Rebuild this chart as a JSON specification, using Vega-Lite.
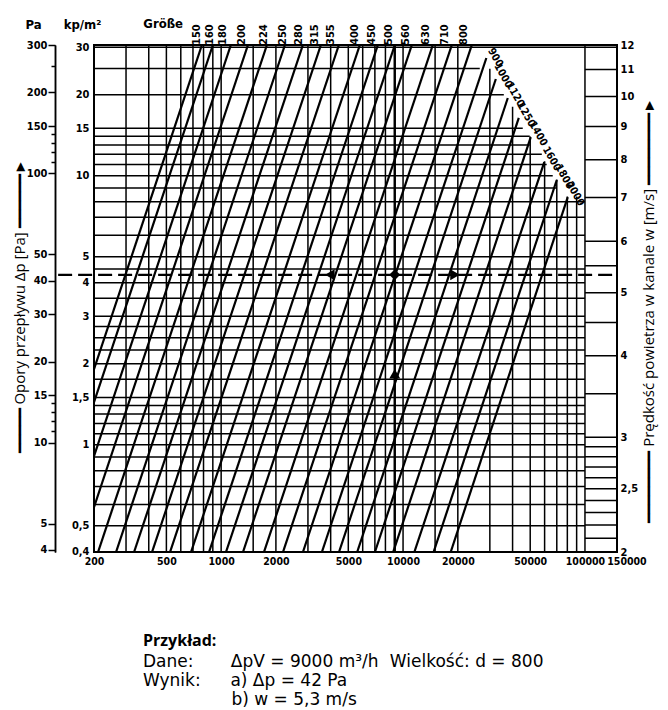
{
  "$schema": "https://vega.github.io/schema/vega-lite/v6.json",
  "width": 523,
  "height": 507,
  "autosize": {"type": "none"},
  "padding": {"left": 94, "top": 45, "right": 51, "bottom": 158},
  "background": "white",
  "config": {
    "view": {"stroke": "black", "strokeWidth": 2},
    "axis": {
      "labelFont": "DejaVu Sans Condensed, Liberation Sans Narrow, Roboto, sans-serif",
      "labelFontWeight": "bold",
      "labelFontSize": 11,
      "labelColor": "black",
      "titleColor": "black",
      "domainColor": "black",
      "tickColor": "black",
      "grid": false,
      "titleFont": "DejaVu Sans Condensed, Liberation Sans Narrow, Roboto, sans-serif",
      "titleFontWeight": "bold"
    }
  },
  "title": {
    "text": "Przykład:",
    "subtitle": [
      "Dane:\u2003\u2003\u2009ΔpV = 9000 m³/h\u2002\u2006Wielkość: d = 800",
      "Wynik:\u2003\u2002\u2005a) Δp = 42 Pa",
      "\u200b\u2003\u2003\u2003\u2003\u2003\u2009b) w = 5,3 m/s"
    ],
    "orient": "bottom",
    "anchor": "start",
    "frame": "group",
    "dx": 49,
    "offset": 66,
    "font": "Open Sans",
    "fontSize": 16,
    "fontWeight": "bold",
    "color": "black",
    "subtitleFont": "DejaVu Sans",
    "subtitleFontSize": 17,
    "subtitleFontWeight": "normal",
    "subtitleColor": "black",
    "subtitleLineHeight": 19,
    "subtitlePadding": 5
  },
  "datasets": {
    "lines": [
      {"d":150,"q":784,"pa":300},{"d":150,"q":200,"pa":18.73},
      {"d":160,"q":901,"pa":300},{"d":160,"q":200,"pa":14.12},
      {"d":180,"q":1131,"pa":300},{"d":180,"q":200,"pa":8.9},
      {"d":200,"q":1404,"pa":300},{"d":200,"q":200,"pa":5.75},
      {"d":224,"q":1785,"pa":300},{"d":224,"q":210.6,"pa":3.92},
      {"d":250,"q":2242,"pa":300},{"d":250,"q":264.5,"pa":3.92},
      {"d":280,"q":2814,"pa":300},{"d":280,"q":332.2,"pa":3.92},
      {"d":315,"q":3534,"pa":300},{"d":315,"q":417,"pa":3.92},
      {"d":355,"q":4438,"pa":300},{"d":355,"q":523.8,"pa":3.92},
      {"d":400,"q":5787,"pa":300},{"d":400,"q":683.2,"pa":3.92},
      {"d":450,"q":7270,"pa":300},{"d":450,"q":857.8,"pa":3.92},
      {"d":500,"q":9014,"pa":300},{"d":500,"q":1063.6,"pa":3.92},
      {"d":560,"q":11178,"pa":300},{"d":560,"q":1319,"pa":3.92},
      {"d":630,"q":14576,"pa":300},{"d":630,"q":1720,"pa":3.92},
      {"d":710,"q":18540,"pa":300},{"d":710,"q":2188,"pa":3.92},
      {"d":800,"q":23880,"pa":300},{"d":800,"q":2816,"pa":3.92},
      {"d":900,"q":28700,"pa":268.4},{"d":900,"q":3580,"pa":3.92},
      {"d":1000,"q":32360,"pa":224.3},{"d":1000,"q":4446,"pa":3.92},
      {"d":1120,"q":37650,"pa":190.6},{"d":1120,"q":5596,"pa":3.92},
      {"d":1250,"q":43270,"pa":160.7},{"d":1250,"q":7004,"pa":3.92},
      {"d":1400,"q":50360,"pa":136.5},{"d":1400,"q":8826,"pa":3.92},
      {"d":1600,"q":59740,"pa":110.2},{"d":1600,"q":11540,"pa":3.92},
      {"d":1800,"q":69980,"pa":94.5},{"d":1800,"q":14720,"pa":3.92},
      {"d":2000,"q":80440,"pa":81.7},{"d":2000,"q":18280,"pa":3.92}
    ],
    "labelsUp": [
      {"d":"150","q":794,"pa":300},{"d":"160","q":936,"pa":300},{"d":"180","q":1104,"pa":300},{"d":"200","q":1404,"pa":300},
      {"d":"224","q":1852,"pa":300},{"d":"250","q":2356,"pa":300},{"d":"280","q":2890,"pa":300},{"d":"315","q":3534,"pa":300},
      {"d":"355","q":4336,"pa":300},{"d":"400","q":5874,"pa":300},{"d":"450","q":7270,"pa":300},{"d":"500","q":9014,"pa":300},
      {"d":"560","q":11178,"pa":300},{"d":"630","q":14420,"pa":300},{"d":"710","q":18320,"pa":300},{"d":"800","q":23240,"pa":300}
    ],
    "labelsStair": [
      {"d":"900","q":28700,"pa":268.4},{"d":"1000","q":32360,"pa":224.3},
      {"d":"1120","q":37650,"pa":190.6},{"d":"1250","q":43270,"pa":160.7},
      {"d":"1400","q":50360,"pa":136.5},{"d":"1600","q":59740,"pa":110.2},
      {"d":"1800","q":69980,"pa":94.5},{"d":"2000","q":80440,"pa":81.7}
    ],
    "vgrid": [
      {"q":300,"top":300,"bot":3.92},{"q":400,"top":300,"bot":3.92},{"q":500,"top":300,"bot":3.92},{"q":600,"top":300,"bot":3.92},
      {"q":700,"top":300,"bot":3.92},{"q":800,"top":300,"bot":3.92},{"q":900,"top":300,"bot":3.92},{"q":1000,"top":300,"bot":3.92},
      {"q":1500,"top":300,"bot":3.92},{"q":2000,"top":300,"bot":3.92},{"q":3000,"top":300,"bot":3.92},{"q":4000,"top":300,"bot":3.92},
      {"q":5000,"top":300,"bot":3.92},{"q":6000,"top":300,"bot":3.92},{"q":7000,"top":300,"bot":3.92},{"q":8000,"top":300,"bot":3.92},
      {"q":9000,"top":300,"bot":3.92},{"q":10000,"top":300,"bot":3.92},{"q":15000,"top":300,"bot":3.92},{"q":20000,"top":300,"bot":3.92},
      {"q":30000,"top":245,"bot":3.92},{"q":40000,"top":177,"bot":3.92},{"q":50000,"top":137,"bot":3.92},{"q":60000,"top":111,"bot":3.92},
      {"q":70000,"top":95,"bot":3.92},{"q":80000,"top":82,"bot":3.92},{"q":90000,"top":82,"bot":3.92},{"q":100000,"top":300,"bot":3.92}
    ],
    "hgrid": [
      {"kp":30,"q0":200,"qend":150000},{"kp":25,"q0":200,"qend":26400},{"kp":20,"q0":200,"qend":35800},
      {"kp":15,"q0":200,"qend":45500},{"kp":14,"q0":200,"qend":49700},{"kp":13,"q0":200,"qend":49700},
      {"kp":12,"q0":200,"qend":57900},{"kp":11,"q0":200,"qend":61600},{"kp":10,"q0":200,"qend":66500},
      {"kp":9,"q0":200,"qend":70000},{"kp":8,"q0":200,"qend":100000},{"kp":7,"q0":200,"qend":100000},
      {"kp":6,"q0":200,"qend":100000},{"kp":5,"q0":200,"qend":100000},{"kp":4.5,"q0":200,"qend":100000},
      {"kp":4,"q0":200,"qend":100000},{"kp":3.5,"q0":200,"qend":100000},{"kp":3,"q0":200,"qend":100000},
      {"kp":2.75,"q0":200,"qend":100000},{"kp":2.5,"q0":200,"qend":100000},{"kp":2.25,"q0":200,"qend":100000},
      {"kp":2,"q0":200,"qend":100000},{"kp":1.75,"q0":200,"qend":100000},{"kp":1.5,"q0":200,"qend":100000},
      {"kp":1.4,"q0":200,"qend":100000},{"kp":1.3,"q0":200,"qend":100000},{"kp":1.2,"q0":200,"qend":100000},
      {"kp":1.1,"q0":200,"qend":100000},{"kp":1,"q0":200,"qend":100000},{"kp":0.9,"q0":200,"qend":100000},
      {"kp":0.8,"q0":200,"qend":100000},{"kp":0.7,"q0":200,"qend":100000},{"kp":0.6,"q0":200,"qend":100000},
      {"kp":0.5,"q0":200,"qend":100000}
    ],
    "wgrid": [
      {"w":2.1,"q0":100000,"q1":150000},{"w":2.2,"q0":100000,"q1":150000},{"w":2.3,"q0":100000,"q1":150000},
      {"w":2.4,"q0":100000,"q1":150000},{"w":2.5,"q0":100000,"q1":150000},{"w":2.6,"q0":100000,"q1":150000},
      {"w":2.7,"q0":100000,"q1":150000},{"w":2.8,"q0":100000,"q1":150000},{"w":2.9,"q0":100000,"q1":150000},
      {"w":3,"q0":100000,"q1":150000},{"w":3.5,"q0":100000,"q1":150000},{"w":4,"q0":100000,"q1":150000},
      {"w":4.5,"q0":100000,"q1":150000},{"w":5,"q0":100000,"q1":150000},{"w":5.5,"q0":100000,"q1":150000},
      {"w":6,"q0":100000,"q1":150000},{"w":7,"q0":100000,"q1":150000},{"w":8,"q0":100000,"q1":150000},
      {"w":9,"q0":100000,"q1":150000},{"w":10,"q0":100000,"q1":150000},{"w":11,"q0":100000,"q1":150000}
    ],
    "example": [{"q":127,"q2":150000,"pa":42}],
    "arrows": [
      {"q":3960,"pa":42,"kind":"left"},
      {"q":9000,"pa":42,"kind":"mid"},
      {"q":19300,"pa":42,"kind":"right"},
      {"q":9000,"pa":18,"kind":"up"}
    ],
    "heading": [{"q":480,"pa":300,"t":"Größe"}]
  },
  "resolve": {"scale": {"y": "independent"}, "axis": {"y": "independent"}},
  "layer": [
    {
      "data": {"values": [{"q": 1000, "pa": 10}]},
      "mark": {"type": "point", "opacity": 0},
      "encoding": {
        "x": {
          "field": "q", "type": "quantitative",
          "scale": {"type": "log", "domain": [200, 150000], "nice": false},
          "axis": {
            "orient": "bottom",
            "values": [200, 500, 1000, 2000, 5000, 10000, 20000, 50000, 100000, 150000],
            "format": "d", "ticks": false, "domain": false, "labelPadding": 4,
            "labelFontSize": 10.5,
            "labelExpr": "datum.value == 150000 ? '\u200b\u2002\u2002\u2002\u2002150000' : datum.label",
            "labelFlush": false, "labelOverlap": false, "title": null
          }
        },
        "y": {
          "field": "pa", "type": "quantitative",
          "scale": {"type": "log", "domain": [3.92, 300], "nice": false},
          "axis": {
            "orient": "left", "offset": 39,
            "values": [250, 140, 130, 120, 110, 14, 13, 12, 11],
            "labels": false, "tickSize": 4, "tickWidth": 1.5, "domainWidth": 1.5,
            "title": "━━━━━ Opory przepływu Δp [Pa] ━━━━━━►",
            "titleFont": "Open Sans", "titleFontWeight": "normal", "titleFontSize": 15,
            "titleAngle": 270, "titleX": -36, "titleY": 261,
            "titleAlign": "center", "titleBaseline": "middle"
          }
        }
      }
    },
    {
      "layer": [
        {
          "data": {"name": "vgrid"},
          "mark": {"type": "rule", "color": "black", "strokeWidth": 1.5},
          "encoding": {
            "x": {"field": "q", "type": "quantitative", "scale": {"type": "log", "domain": [200, 150000], "nice": false}},
            "y": {
              "field": "top", "type": "quantitative",
              "scale": {"type": "log", "domain": [3.92, 300], "nice": false},
              "axis": {
                "orient": "left", "offset": 39,
                "values": [4, 5, 10, 15, 20, 30, 40, 50, 100, 150, 200, 300],
                "format": "d", "tickSize": 7, "tickWidth": 1.5, "domainWidth": 1.5,
                "labelPadding": 1, "labelOverlap": false,
                "title": "Pa", "titleAngle": 0, "titleX": -22, "titleY": -21,
                "titleAlign": "center", "titleBaseline": "middle", "titleFontSize": 13
              }
            },
            "y2": {"field": "bot"}
          }
        },
        {
          "data": {"name": "vgrid"},
          "transform": [{"filter": "datum.q == 9000"}],
          "mark": {"type": "rule", "color": "black", "strokeWidth": 2.4},
          "encoding": {
            "x": {"field": "q", "type": "quantitative", "scale": {"type": "log", "domain": [200, 150000], "nice": false}},
            "y": {"field": "top", "type": "quantitative", "scale": {"type": "log", "domain": [3.92, 300], "nice": false}},
            "y2": {"field": "bot"}
          }
        },
        {
          "data": {"name": "lines"},
          "mark": {"type": "line", "color": "black", "strokeWidth": 2.2, "clip": true},
          "encoding": {
            "x": {"field": "q", "type": "quantitative", "scale": {"type": "log", "domain": [200, 150000], "nice": false}},
            "y": {"field": "pa", "type": "quantitative", "scale": {"type": "log", "domain": [3.92, 300], "nice": false}},
            "detail": {"field": "d", "type": "nominal"}
          }
        },
        {
          "data": {"name": "example"},
          "mark": {"type": "rule", "color": "black", "strokeWidth": 2.2, "strokeDash": [14, 6]},
          "encoding": {
            "x": {"field": "q", "type": "quantitative", "scale": {"type": "log", "domain": [200, 150000], "nice": false}},
            "x2": {"field": "q2"},
            "y": {"field": "pa", "type": "quantitative", "scale": {"type": "log", "domain": [3.92, 300], "nice": false}}
          }
        },
        {
          "data": {"name": "arrows"},
          "mark": {"type": "point", "filled": true, "color": "black", "opacity": 1, "size": 120},
          "encoding": {
            "x": {"field": "q", "type": "quantitative", "scale": {"type": "log", "domain": [200, 150000], "nice": false}},
            "y": {"field": "pa", "type": "quantitative", "scale": {"type": "log", "domain": [3.92, 300], "nice": false}},
            "shape": {
              "field": "kind", "type": "nominal", "legend": null,
              "scale": {"domain": ["left", "mid", "right", "up"], "range": ["triangle-left", "diamond", "triangle-right", "triangle-up"]}
            }
          }
        },
        {
          "data": {"name": "labelsUp"},
          "mark": {
            "type": "text", "angle": 270, "align": "left", "baseline": "middle", "dy": -6,
            "font": "DejaVu Sans Condensed, Liberation Sans Narrow, Roboto, sans-serif",
            "fontWeight": "bold", "fontSize": 11, "color": "black"
          },
          "encoding": {
            "x": {"field": "q", "type": "quantitative", "scale": {"type": "log", "domain": [200, 150000], "nice": false}},
            "y": {"field": "pa", "type": "quantitative", "scale": {"type": "log", "domain": [3.92, 300], "nice": false}},
            "text": {"field": "d", "type": "nominal"}
          }
        },
        {
          "data": {"name": "labelsStair"},
          "mark": {
            "type": "text", "angle": 60, "align": "right", "baseline": "middle", "dx": 14, "dy": -8,
            "font": "DejaVu Sans Condensed, Liberation Sans Narrow, Roboto, sans-serif",
            "fontWeight": "bold", "fontSize": 10.5, "color": "black"
          },
          "encoding": {
            "x": {"field": "q", "type": "quantitative", "scale": {"type": "log", "domain": [200, 150000], "nice": false}},
            "y": {"field": "pa", "type": "quantitative", "scale": {"type": "log", "domain": [3.92, 300], "nice": false}},
            "text": {"field": "d", "type": "nominal"}
          }
        },
        {
          "data": {"name": "heading"},
          "mark": {
            "type": "text", "align": "center", "baseline": "middle", "dy": -21,
            "font": "DejaVu Sans Condensed, Liberation Sans Narrow, Roboto, sans-serif",
            "fontWeight": "bold", "fontSize": 13, "color": "black"
          },
          "encoding": {
            "x": {"field": "q", "type": "quantitative", "scale": {"type": "log", "domain": [200, 150000], "nice": false}},
            "y": {"field": "pa", "type": "quantitative", "scale": {"type": "log", "domain": [3.92, 300], "nice": false}},
            "text": {"field": "t", "type": "nominal"}
          }
        }
      ]
    },
    {
      "data": {"name": "hgrid"},
      "mark": {"type": "rule", "color": "black", "strokeWidth": 1.5},
      "encoding": {
        "x": {"field": "q0", "type": "quantitative", "scale": {"type": "log", "domain": [200, 150000], "nice": false}},
        "x2": {"field": "qend"},
        "y": {
          "field": "kp", "type": "quantitative",
          "scale": {"type": "log", "domain": [0.39959, 30.581], "nice": false},
          "axis": {
            "orient": "left", "offset": 0,
            "values": [0.4, 0.5, 1, 1.5, 2, 3, 4, 5, 10, 15, 20, 30],
            "labelExpr": "replace(format(datum.value, '~g'), '.', ',')",
            "ticks": false, "domain": false, "labelPadding": 5, "labelOverlap": false,
            "title": "kp/m²", "titleAngle": 0, "titleX": -12, "titleY": -21,
            "titleAlign": "center", "titleBaseline": "middle", "titleFontSize": 13
          }
        }
      }
    },
    {
      "data": {"name": "wgrid"},
      "mark": {"type": "rule", "color": "black", "strokeWidth": 1.5},
      "encoding": {
        "x": {"field": "q0", "type": "quantitative", "scale": {"type": "log", "domain": [200, 150000], "nice": false}},
        "x2": {"field": "q1"},
        "y": {
          "field": "w", "type": "quantitative",
          "scale": {"type": "log", "domain": [2, 12], "nice": false},
          "axis": {
            "orient": "right", "offset": 0,
            "values": [2, 2.5, 3, 4, 5, 6, 7, 8, 9, 10, 11, 12],
            "labelExpr": "replace(format(datum.value, '~g'), '.', ',')",
            "ticks": false, "domain": false, "labelPadding": 3, "labelOverlap": false,
            "title": "━━━━━━━━ Prędkość powietrza w kanale w [m/s] ━━━━━━━━►",
            "titleFont": "Open Sans", "titleFontWeight": "normal", "titleFontSize": 15,
            "titleAngle": 270, "titleX": 31, "titleY": 265,
            "titleAlign": "center", "titleBaseline": "middle"
          }
        }
      }
    }
  ]
}
